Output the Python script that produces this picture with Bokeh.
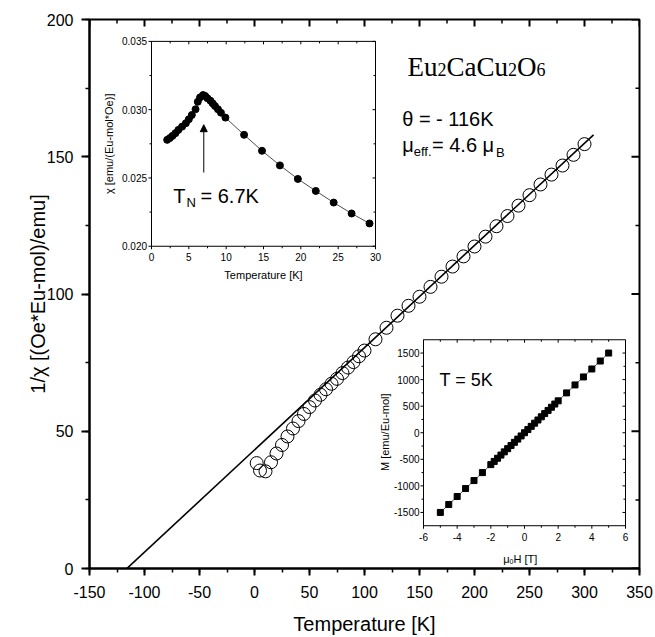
import numpy as np
from bokeh.plotting import figure
from bokeh.models import (Range1d, SingleIntervalTicker, Label, Arrow, NormalHead,
                          CustomJSTickFormatter)
from bokeh.embed import file_html
from bokeh.resources import INLINE
from bokeh.core.properties import value

# ---------------- data ----------------
main_T = [2, 5, 10, 15, 20, 25, 30, 35, 40, 45, 50, 55, 60, 65, 70, 75, 80, 85, 90, 95,
          100, 110, 120, 130, 140, 150, 160, 170, 180, 190, 200, 210, 220, 230, 240,
          250, 260, 270, 280, 290, 300]
main_inv_chi = [38.4, 35.7, 35.4, 38.7, 41.9, 45.0, 48.1, 51.0, 53.7, 56.3, 58.8, 61.2,
                63.3, 65.3, 67.3, 69.1, 71.2, 73.2, 75.2, 77.3, 79.4, 83.5, 87.7, 92.1,
                95.7, 99.0, 102.6, 106.3, 110.0, 113.7, 117.3, 120.9, 124.7, 128.4,
                132.2, 136.0, 139.9, 143.5, 146.8, 150.7, 154.6]
fit_T = [-120.3, 308.2]
fit_inv_chi = [-1.6, 158.0]

inset1_T = [2.1, 2.45, 2.8, 3.2, 3.6, 4.1, 4.6, 5.0, 5.4, 5.9, 6.2, 6.5, 6.9, 7.2, 7.5,
            7.9, 8.2, 8.5, 8.9, 9.3, 9.9, 12.4, 14.8, 17.2, 19.6, 22.0, 24.4, 26.8, 29.2]
inset1_chi = [0.02779, 0.02792, 0.02808, 0.02828, 0.02852, 0.02876, 0.02901, 0.0293,
              0.02961, 0.03003, 0.03058, 0.0309, 0.03107, 0.0310, 0.03083, 0.03065,
              0.03046, 0.03027, 0.03003, 0.02978, 0.02942, 0.02816, 0.02699, 0.02592,
              0.02493, 0.02405, 0.0232, 0.0224, 0.02167]

inset2_H = [-5, -4.5, -4, -3.5, -3, -2.5, -2, -1.8, -1.6, -1.4, -1.2, -1.0, -0.8, -0.6,
            -0.4, -0.2, 0, 0.2, 0.4, 0.6, 0.8, 1.0, 1.2, 1.4, 1.6, 1.8, 2, 2.5, 3, 3.5,
            4, 4.5, 5]
inset2_M = [-1500, -1350, -1200, -1050, -900, -750, -600, -540, -480, -420, -360, -300,
            -240, -180, -120, -60, 0, 60, 120, 180, 240, 300, 360, 420, 480, 540, 600,
            750, 900, 1050, 1200, 1350, 1500]

inset1_xticks = [0, 5, 10, 15, 20, 25, 30]
inset1_xminor = [2.5, 7.5, 12.5, 17.5, 22.5, 27.5]
inset1_yticks = [0.020, 0.025, 0.030, 0.035]
inset1_yminor = [0.0225, 0.0275, 0.0325]
inset1_ylabels = ["0.020", "0.025", "0.030", "0.035"]

inset2_xticks = [-6, -4, -2, 0, 2, 4, 6]
inset2_xminor = [-5, -3, -1, 1, 3, 5]
inset2_yticks = [-1500, -1000, -500, 0, 500, 1000, 1500]
inset2_yminor = [-1250, -750, -250, 250, 750, 1250]

main_xticks = [-150, -100, -50, 0, 50, 100, 150, 200, 250, 300, 350]
main_xminor = [-125, -75, -25, 25, 75, 125, 175, 225, 275, 325]
main_yticks = [0, 50, 100, 150, 200]
main_yminor = [25, 75, 125, 175]

FONT = "Liberation Sans"
SERIF = "Liberation Serif"

# ---------------- layout (page pixels) ----------------
W, H = 655, 637
FL, FR, FT, FB = 89, 639, 19, 571
XMIN, XMAX, YMIN, YMAX = -150, 350, 0, 200


def pg(px, py):
    """page pixel -> main data coordinates"""
    return (XMIN + (px - FL) * (XMAX - XMIN) / (FR - FL),
            YMIN + (FB - py) * (YMAX - YMIN) / (FB - FT))


def extra_range(v0, v1, p0, p1, f0, f1):
    k = (p1 - p0) / (v1 - v0)
    s = v0 - (p0 - f0) / k
    return Range1d(s, s + (f1 - f0) / k)


p = figure(width=W, height=H, x_range=Range1d(XMIN, XMAX), y_range=Range1d(YMIN, YMAX),
           output_backend="svg", toolbar_location=None,
           min_border_left=FL, min_border_right=W - FR, min_border_top=FT,
           min_border_bottom=H - FB)
p.xgrid.visible = False
p.ygrid.visible = False
p.outline_line_color = "black"
p.outline_line_width = 2
p.background_fill_color = "white"
p.border_fill_color = "white"

for ax, iv in ((p.xaxis[0], 50), (p.yaxis[0], 50)):
    ax.ticker = SingleIntervalTicker(interval=iv, num_minor_ticks=2)
    ax.formatter = CustomJSTickFormatter(code="return tick.toFixed(0)")
    ax.axis_line_width = 2
    ax.major_tick_line_width = 2
    ax.minor_tick_line_width = 1.5
    ax.major_tick_in = 0
    ax.minor_tick_in = 0
    ax.major_label_text_font = FONT
    ax.major_label_text_font_size = "16px"
    ax.major_label_text_color = "black"
    ax.axis_label_text_font = FONT
    ax.axis_label_text_font_size = "20px"
    ax.axis_label_text_font_style = "normal"
    ax.axis_label_text_color = "black"

p.xaxis[0].major_tick_out = 7
p.xaxis[0].minor_tick_out = 4
p.xaxis[0].major_label_standoff = 10
p.xaxis[0].axis_label = "Temperature [K]"
p.xaxis[0].axis_label_standoff = 12

p.yaxis[0].major_tick_out = 8
p.yaxis[0].minor_tick_out = 4
p.yaxis[0].major_label_standoff = 8
p.yaxis[0].axis_label = "1/\u03c7 [(Oe*Eu-mol)/emu]"
p.yaxis[0].axis_label_standoff = -5

# top / right inward ticks
p.ray(x=main_xticks, y=[YMAX] * len(main_xticks), length=7, angle=-np.pi / 2,
      length_units="screen", line_color="black", line_width=2)
p.ray(x=main_xminor, y=[YMAX] * len(main_xminor), length=4, angle=-np.pi / 2,
      length_units="screen", line_color="black", line_width=1.5)
p.ray(x=[XMAX] * len(main_yticks), y=main_yticks, length=8, angle=np.pi,
      length_units="screen", line_color="black", line_width=2)
p.ray(x=[XMAX] * len(main_yminor), y=main_yminor, length=4, angle=np.pi,
      length_units="screen", line_color="black", line_width=1.5)

# main data
p.line(fit_T, fit_inv_chi, line_color="black", line_width=1.6)
p.scatter(main_T, main_inv_chi, marker="circle", size=13, fill_color=None,
          line_color="black", line_width=1)

# ---------------- insets ----------------
p.extra_x_ranges["i1x"] = extra_range(0, 30, 151, 375, FL, FR)
p.extra_y_ranges["i1y"] = extra_range(0.020, 0.035, FB - 247, FB - 41, 0, FB - FT)
p.extra_x_ranges["i2x"] = extra_range(-6, 6, 423, 625, FL, FR)
p.extra_y_ranges["i2y"] = extra_range(-1750, 1750, FB - 528, FB - 341, 0, FB - FT)


def inset_axes(xr, yr, x0, x1, y0, y1, xt, xm, yt, ym, xl, yl, xoff, yoff):
    kw = dict(x_range_name=xr, y_range_name=yr)
    p.quad(left=[x0], right=[x1], bottom=[y0], top=[y1], fill_color="white",
           line_color="black", line_width=1, **kw)
    rk = dict(length_units="screen", line_color="black", line_width=1, **kw)
    p.ray(x=xt, y=[y0] * len(xt), length=3, angle=-np.pi / 2, **rk)
    p.ray(x=xm, y=[y0] * len(xm), length=2, angle=-np.pi / 2, **rk)
    p.ray(x=xt, y=[y1] * len(xt), length=3, angle=-np.pi / 2, **rk)
    p.ray(x=xm, y=[y1] * len(xm), length=2, angle=-np.pi / 2, **rk)
    p.ray(x=[x0] * len(yt), y=yt, length=3, angle=np.pi, **rk)
    p.ray(x=[x0] * len(ym), y=ym, length=2, angle=np.pi, **rk)
    p.ray(x=[x1] * len(yt), y=yt, length=3, angle=np.pi, **rk)
    p.ray(x=[x1] * len(ym), y=ym, length=2, angle=np.pi, **rk)
    p.text(x=xt, y=[y0] * len(xt), text=xl, y_offset=yoff, text_align="center",
           text_baseline="middle", text_font=value(FONT), text_font_size="10px",
           text_color="black", **kw)
    p.text(x=[x0] * len(yt), y=yt, text=yl, x_offset=xoff, text_align="right",
           text_baseline="middle", text_font=value(FONT), text_font_size="10px",
           text_color="black", **kw)


inset_axes("i1x", "i1y", 0, 30, 0.020, 0.035, inset1_xticks, inset1_xminor,
           inset1_yticks, inset1_yminor, [str(v) for v in inset1_xticks],
           inset1_ylabels, -4.5, 11)
inset_axes("i2x", "i2y", -6, 6, -1750, 1750, inset2_xticks, inset2_xminor,
           inset2_yticks, inset2_yminor, [str(v) for v in inset2_xticks],
           [str(v) for v in inset2_yticks], -4, 11)

p.line(inset1_T, inset1_chi, line_color="black", line_width=0.7,
       x_range_name="i1x", y_range_name="i1y")
p.scatter(inset1_T, inset1_chi, marker="circle", size=7, fill_color="black",
          line_color="black", x_range_name="i1x", y_range_name="i1y")

p.line(inset2_H, inset2_M, line_color="black", line_width=0.7,
       x_range_name="i2x", y_range_name="i2y")
p.scatter(inset2_H, inset2_M, marker="square", size=6, fill_color="black",
          line_color="black", x_range_name="i2x", y_range_name="i2y")

p.add_layout(Arrow(x_start=7.0, y_start=0.0254, x_end=7.0, y_end=0.0289,
                   x_range_name="i1x", y_range_name="i1y", line_width=1,
                   end=NormalHead(size=7, fill_color="black", line_color="black")))


def lab(px, py, text, size, font=FONT, angle=0.0, align="left", baseline="alphabetic"):
    x, y = pg(px, py)
    p.add_layout(Label(x=x, y=y, text=text, text_font=font, text_font_size=size,
                       text_color="black", angle=angle, text_align=align,
                       text_baseline=baseline))


# inset titles
lab(263, 276, "Temperature [K]", "11px", align="center", baseline="middle")
lab(108, 144, "\u03c7 [emu/(Eu-mol*Oe)]", "11px", angle=np.pi / 2, align="center",
    baseline="middle")
lab(502.7, 561.7, "\u03bc", "11px")
lab(509.0, 564.0, "0", "7px")
lab(513.0, 561.7, "H [T]", "11px")
lab(384, 434, "M [emu/Eu-mol]", "11px", angle=np.pi / 2, align="center",
    baseline="middle")

# annotations
lab(172.7, 196.7, "T", "20px")
lab(186.0, 202.7, "N", "13px")
lab(200.0, 196.7, "= 6.7K", "20px")
lab(439.0, 381.7, "T = 5K", "18px")

lab(407.0, 66.7, "Eu", "27px", font=SERIF)
lab(437.0, 69.5, "2", "18px", font=SERIF)
lab(446.0, 66.7, "CaCu", "27px", font=SERIF)
lab(507.5, 69.5, "2", "18px", font=SERIF)
lab(516.5, 66.7, "O", "27px", font=SERIF)
lab(536.0, 69.5, "6", "18px", font=SERIF)

lab(401.7, 119.0, "\u03b8 = - 116K", "20px")
lab(401.7, 145.0, "\u03bc", "20px")
lab(413.2, 152.0, "eff.", "13px")
lab(431.5, 145.0, "= 4.6 \u03bc", "20px")
lab(495.5, 153.0, "B", "13px")

open("out.html", "w").write(file_html(p, INLINE))
